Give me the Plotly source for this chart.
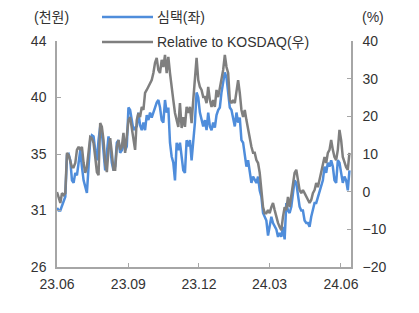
import pandas as pd
import plotly.graph_objects as go

# 심택 share price (천원, left axis)
price = [30.7, 30.5, 30.5, 30.9, 31.2, 31.6, 34.9, 35.0, 34.5, 32.9, 32.7, 33.5, 33.3, 34.5, 35.3, 34.0,
         32.9, 32.4, 31.9, 34.0, 36.1, 36.5, 36.4, 35.3, 34.5, 36.1, 37.2, 36.7, 35.3, 33.7, 35.1, 36.4,
         35.6, 34.3, 33.7, 34.0, 35.9, 36.1, 35.1, 35.3, 36.1, 35.3, 35.6, 38.7,
         38.5, 37.7, 36.9, 37.1, 37.2, 38.3, 37.3, 36.9, 37.5, 36.9, 38.1, 37.7, 38.3, 37.9, 38.3, 38.7,
         39.1, 39.3, 38.7, 37.7, 37.5, 39.3, 38.3, 38.7, 35.9, 34.8, 34.3, 32.9, 35.9, 35.3, 35.9, 34.8,
         33.7, 33.5, 36.1, 35.6, 36.1, 34.5, 35.9, 37.5, 39.9, 39.5, 38.3, 37.7, 37.2,
         37.7, 36.9, 38.3, 37.2, 36.9, 37.5, 37.1, 38.1, 38.5, 38.7, 39.9, 40.7, 41.5, 41.1, 40.1, 38.7,
         38.5, 37.9, 37.2, 38.3, 37.5, 37.9, 36.1, 35.9, 35.1, 34.0, 34.5, 33.5, 32.7, 33.2, 32.9, 32.7,
         33.2, 32.1, 31.6, 30.3, 30.0, 29.7, 28.5, 29.2, 30.0, 29.5, 29.2, 29.0, 28.4,
         28.7, 28.4, 29.2, 28.2, 31.1, 30.5, 30.3, 30.8, 31.9, 32.9, 32.7, 31.6, 30.8, 30.5, 30.5, 29.7,
         29.5, 29.5, 29.2, 30.0, 30.5, 31.1, 31.1, 31.6, 31.9, 32.4, 32.9, 34.0, 33.5, 34.3, 34.0, 34.5,
         34.0, 32.9, 32.7, 34.5, 34.3, 33.5, 32.7, 33.2, 32.9, 32.1, 33.7]

# Relative to KOSDAQ (%, right axis)
relative = [-0.1, -1.4, -3.0, -0.4, -0.9, -0.4, 10.3, 9.7, 8.4, 6.5, 6.5, 7.6, 11.1, 11.9, 11.1, 11.9,
            7.6, 5.0, 6.5, 11.1, 14.5, 14.2, 12.9, 9.2, 5.2, 4.4, 18.2, 17.2, 13.7, 7.6, 5.2, 11.1,
            14.2, 10.3, 5.8, 5.8, 11.9, 13.7, 11.1, 11.9, 15.6, 10.3, 14.5, 19.0,
            19.8, 16.4, 13.7, 11.1, 19.0, 20.9, 19.8, 22.5, 21.7, 26.2, 27.0, 27.8, 28.9, 29.6, 31.5, 34.2,
            35.5, 32.3, 31.5, 35.0, 33.1, 36.3, 31.5, 35.8, 31.5, 27.0, 24.3, 20.9, 19.0, 17.2, 23.5, 16.9,
            19.8, 17.2, 22.5, 20.9, 22.5, 18.2, 24.3, 29.6, 35.5, 29.6, 27.8, 27.0, 25.1,
            25.1, 23.5, 27.8, 24.3, 22.5, 24.3, 22.5, 27.0, 25.1, 27.8, 30.4, 32.3, 36.3, 33.1, 31.5, 24.3,
            23.5, 24.3, 23.5, 26.2, 29.6, 26.2, 21.7, 19.8, 21.7, 19.0, 16.4, 13.7, 11.9, 10.3, 10.3, 8.4,
            7.6, 5.0, 1.2, -4.1, -5.7, -5.7, -4.9, -5.7, -4.1, -3.0, -4.9, -6.7, -8.3,
            -9.4, -10.2, -6.7, -4.1, -4.9, -1.4, -4.1, -1.4, 1.2, 5.0, 5.8, 3.1, 0.4, -0.4, 0.4, -0.4,
            -1.4, -2.2, -3.0, -2.2, -0.4, 0.4, 2.3, 1.2, 3.1, 5.0, 6.5, 9.2, 7.6, 10.3, 11.1, 13.7,
            11.1, 9.2, 8.4, 11.1, 16.4, 13.7, 9.2, 7.6, 6.5, 5.8, 10.3]

dates = pd.date_range("2023-06-01", "2024-06-12", periods=len(price))

x_tickvals = ["2023-06-01", "2023-09-01", "2023-12-01", "2024-03-01", "2024-06-01"]
x_ticktext = ["23.06", "23.09", "23.12", "24.03", "24.06"]
left_tickvals = [26, 30.5, 35, 39.5, 44]
left_ticktext = ["26", "31", "35", "40", "44"]
right_tickvals = [-20, -10, 0, 10, 20, 30, 40]

BLUE = "#4f8ddb"
GREY = "#7f7f7f"
AXIS = "#a6a6a6"
TXT = "#333333"
FONT = "Liberation Sans, Arial, Noto Sans CJK KR, sans-serif"

fig = go.Figure()
fig.add_trace(go.Scatter(x=dates, y=price, mode="lines", name="심택(좌)",
                         line=dict(color=BLUE, width=2.5), showlegend=False))
fig.add_trace(go.Scatter(x=dates, y=relative, mode="lines", name="Relative to KOSDAQ(우)",
                         line=dict(color=GREY, width=2.5), yaxis="y2", showlegend=False))

axis_common = dict(showgrid=False, zeroline=False, showline=True, linecolor=AXIS, linewidth=1.5,
                   ticks="inside", ticklen=4, tickcolor=AXIS, tickwidth=1,
                   tickfont=dict(family=FONT, size=14, color=TXT))

# page body has an 8px margin, so the figure is a bit smaller than the window
fig.update_layout(
    width=411, height=305,
    margin=dict(l=49, r=68, t=33, b=46),
    paper_bgcolor="white", plot_bgcolor="white",
    font=dict(family=FONT, size=14, color=TXT),
    xaxis=dict(range=["2023-06-01", "2024-06-14"], tickvals=x_tickvals, ticktext=x_ticktext,
               ticklabelstandoff=3, **axis_common),
    yaxis=dict(range=[26, 44], tickvals=left_tickvals, ticktext=left_ticktext,
               ticklabelstandoff=6, **axis_common),
    yaxis2=dict(range=[-20, 40], tickvals=right_tickvals, overlaying="y", side="right",
                ticklabelstandoff=7, **axis_common),
)

W = 294.0   # plot width in px
H = 226.0   # plot height in px

def px_x(px):
    return (px - 57) / W

def px_y(py):
    return (267 - py) / H

# legend drawn as lines + labels at the top
for py, label, col in [(17, "심택(좌)", BLUE), (42, "Relative to KOSDAQ(우)", GREY)]:
    fig.add_shape(type="line", xref="paper", yref="paper", x0=px_x(102), x1=px_x(153),
                  y0=px_y(py), y1=px_y(py), line=dict(color=col, width=2.5))
    fig.add_annotation(xref="paper", yref="paper", x=px_x(155), y=px_y(py), text=label,
                       showarrow=False, xanchor="left", yanchor="middle",
                       font=dict(family=FONT, size=14, color=TXT))

fig.add_annotation(text="(천원)", xref="paper", yref="paper", x=px_x(51), y=px_y(17),
                   showarrow=False, xanchor="center", yanchor="middle",
                   font=dict(family=FONT, size=14, color=TXT))
fig.add_annotation(text="(%)", xref="paper", yref="paper", x=px_x(373), y=px_y(17),
                   showarrow=False, xanchor="center", yanchor="middle",
                   font=dict(family=FONT, size=14, color=TXT))

fig.write_html("out.html")
